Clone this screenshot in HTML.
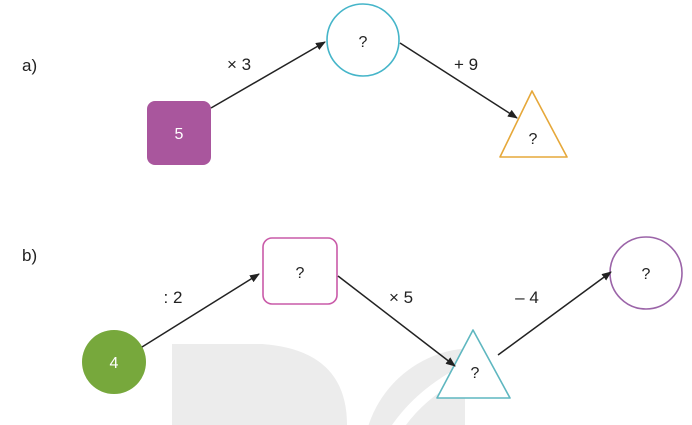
<!DOCTYPE html>
<html><head><style>
html,body{margin:0;padding:0;background:#fff;overflow:hidden;width:692px;height:425px;}
svg{display:block;overflow:hidden;}
text{font-family:"Liberation Sans",Arial,sans-serif;}
</style></head><body>
<svg width="692" height="425" viewBox="0 0 692 425" xmlns="http://www.w3.org/2000/svg">
<defs>
<marker id="ar" markerWidth="10" markerHeight="8" refX="9" refY="4" orient="auto" markerUnits="userSpaceOnUse">
<path d="M0,0 L10,4 L0,8 Z" fill="#222"/>
</marker>
<clipPath id="cr"><rect x="330" y="344" width="135" height="81"/></clipPath>
</defs>
<!-- watermark -->
<path d="M172,344 L262,344 Q347,350 347,425 L172,425 Z" fill="#ececec"/>
<g clip-path="url(#cr)">
<circle cx="475" cy="460" r="112" fill="#ececec"/>
<path d="M392,425 Q420,385 470,362 L470,374 Q428,395 406,425 Z" fill="#fff"/>
</g>
<!-- a) -->
<text x="22" y="71" font-size="17" fill="#222">a)</text>
<rect x="147" y="101" width="64" height="64" rx="8" fill="#a9569d"/>
<text x="179" y="139" font-size="16" fill="#fff" text-anchor="middle">5</text>
<circle cx="363" cy="40" r="36" fill="#fff" stroke="#45b5c9" stroke-width="1.6"/>
<text x="363" y="47" font-size="16" fill="#222" text-anchor="middle">?</text>
<path d="M532,91 L567,157 L500,157 Z" fill="#fff" stroke="#e6a83a" stroke-width="1.6" stroke-linejoin="round"/>
<text x="533" y="144" font-size="16" fill="#222" text-anchor="middle">?</text>
<line x1="211" y1="108" x2="325" y2="42" stroke="#222" stroke-width="1.5" marker-end="url(#ar)"/>
<line x1="400" y1="43" x2="517" y2="118" stroke="#222" stroke-width="1.5" marker-end="url(#ar)"/>
<text x="239" y="70" font-size="17" fill="#222" text-anchor="middle">× 3</text>
<text x="466" y="70" font-size="17" fill="#222" text-anchor="middle">+ 9</text>
<!-- b) -->
<text x="22" y="261" font-size="17" fill="#222">b)</text>
<circle cx="114" cy="362" r="32" fill="#77a83c"/>
<text x="114" y="368" font-size="16" fill="#fff" text-anchor="middle">4</text>
<rect x="263" y="238" width="74" height="66" rx="9" fill="#fff" stroke="#c95aa8" stroke-width="1.6"/>
<text x="300" y="278" font-size="16" fill="#222" text-anchor="middle">?</text>
<path d="M473,330 L510,398 L437,398 Z" fill="#fff" stroke="#5fb7c0" stroke-width="1.6" stroke-linejoin="round"/>
<text x="475" y="378" font-size="16" fill="#222" text-anchor="middle">?</text>
<circle cx="646" cy="273" r="36" fill="#fff" stroke="#9b64a8" stroke-width="1.6"/>
<text x="646" y="279" font-size="16" fill="#222" text-anchor="middle">?</text>
<line x1="142" y1="347" x2="259" y2="274" stroke="#222" stroke-width="1.5" marker-end="url(#ar)"/>
<line x1="338" y1="276" x2="455" y2="366" stroke="#222" stroke-width="1.5" marker-end="url(#ar)"/>
<line x1="498" y1="355" x2="611" y2="272" stroke="#222" stroke-width="1.5" marker-end="url(#ar)"/>
<text x="173" y="303" font-size="17" fill="#222" text-anchor="middle">: 2</text>
<text x="401" y="303" font-size="17" fill="#222" text-anchor="middle">× 5</text>
<text x="527" y="303" font-size="17" fill="#222" text-anchor="middle">– 4</text>
</svg>
</body></html>
